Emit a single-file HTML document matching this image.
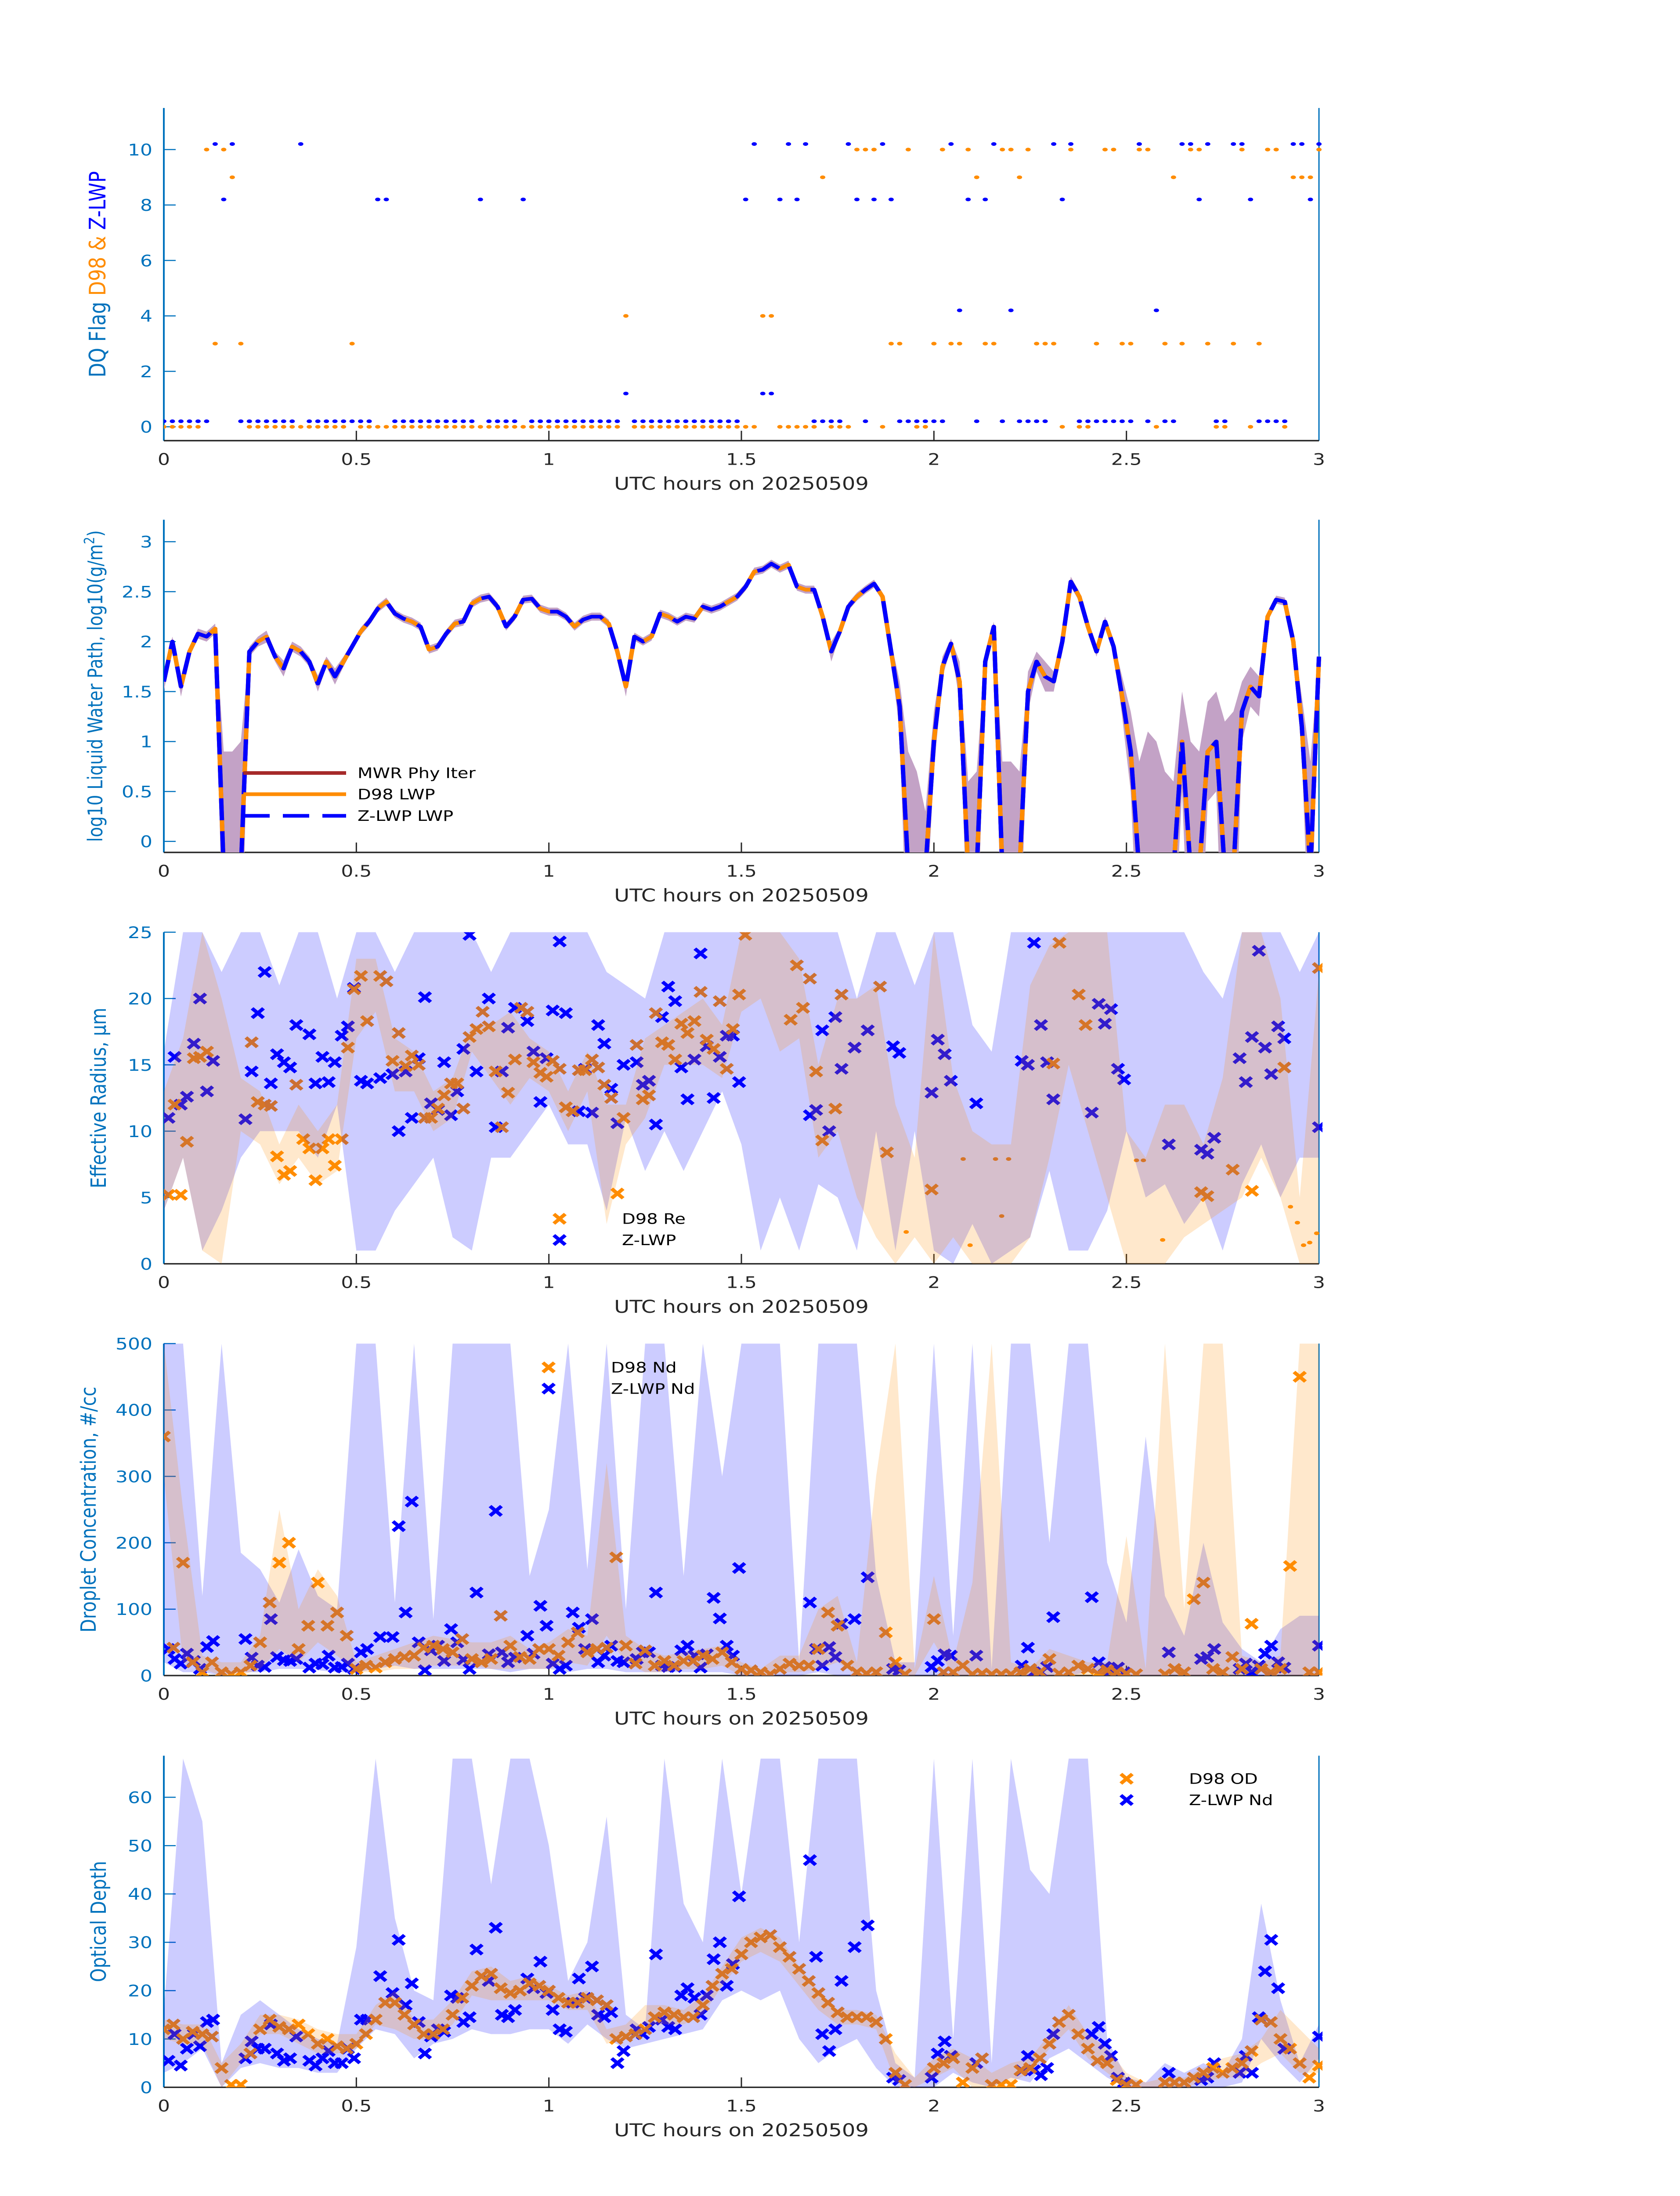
<!DOCTYPE html>
<html>
<head>
<meta charset="utf-8">
<style>
html,body{margin:0;padding:0;background:#fff;width:100%;height:100%;overflow:hidden;}
svg{display:block;position:fixed;left:0;top:0;width:100vw;height:100vh;}
text{font-family:"DejaVu Sans","Liberation Sans",sans-serif;}
</style>
</head>
<body>
<svg id="chart" width="3825" height="6000" viewBox="0 0 3825 6000" preserveAspectRatio="none" xmlns="http://www.w3.org/2000/svg">
<rect x="0" y="0" width="3825" height="6000" fill="#ffffff"/>
</svg>
<script>
// ---------- data ----------
const xTickLabels = ["0","0.5","1","1.5","2","2.5","3"];
const xTickValues = [0,0.5,1,1.5,2,2.5,3];
const flagTicks = [0,2,4,6,8,10];
const lwpTicks = [0,0.5,1,1.5,2,2.5,3];
const reTicks = [0,5,10,15,20,25];
const ndTicks = [0,100,200,300,400,500];
const odTicks = [0,10,20,30,40,50,60];

// DQ flags, one per sample (sample spacing 1/45 h)
const d98Flag = [0,0,0,0,0, 10,3,10,9,3, 0,0,0,0,0,0,0,0,0,0,0,0, 3,
 0,0,0,0,0,0,0,0,0,0,0,0,0,0,0,0,0,0,0,0,0,0,0,0,0,0,0,0,0,0,0, 4,
 0,0,0,0,0,0,0,0,0,0,0,0,0,0,0, 4,4, 0,0,0,0,0, 9, 0,0,0, 10,10,10, 0, 3,3, 10, 0,0,
 3,10,3,3,10,9,3,3,10,10,9,10,3,3,3, 0, 10, 0,0, 3,10,10,3,3,10,10, 0, 3, 9, 3,10,10,3, 0,0, 3,10, 0, 3, 10,10, 0, 9,9,9, 10];
const zFlag = [0.2,0.2,0.2,0.2,0.2,0.2, 10.2,8.2,10.2, 0.2,0.2,0.2,0.2,0.2,0.2,0.2, 10.2,
 0.2,0.2,0.2,0.2,0.2,0.2,0.2,0.2, 8.2,8.2, 0.2,0.2,0.2,0.2,0.2,0.2,0.2,0.2,0.2,0.2, 8.2,
 0.2,0.2,0.2,0.2, 8.2, 0.2,0.2,0.2,0.2,0.2,0.2,0.2,0.2,0.2,0.2,0.2, 1.2,
 0.2,0.2,0.2,0.2,0.2,0.2,0.2,0.2,0.2,0.2,0.2,0.2,0.2, 8.2,10.2,1.2,1.2,8.2,10.2,8.2,10.2,
 0.2,0.2,0.2,0.2, 10.2,8.2,0.2,8.2,10.2,8.2, 0.2,0.2,0.2,0.2,0.2,0.2,
 10.2,4.2,8.2,0.2,8.2,10.2,0.2,4.2, 0.2,0.2,0.2,0.2, 10.2,8.2,10.2,
 0.2,0.2,0.2,0.2,0.2,0.2,0.2, 10.2, 0.2, 4.2, 0.2,0.2, 10.2,10.2,8.2,10.2, 0.2,0.2, 10.2,10.2,8.2,
 0.2,0.2,0.2,0.2, 10.2,10.2,8.2,10.2];

// log10 LWP per sample (1/45 h)
const lwp = [1.6,2.0,1.55,1.9,2.08,2.05,2.13,-0.3,-0.3,-0.3,
 1.9,2.0,2.05,1.85,1.73,1.95,1.9,1.8,1.58,1.8,
 1.65,1.8,1.95,2.1,2.2,2.33,2.4,2.28,2.23,2.2,
 2.15,1.92,1.95,2.08,2.18,2.2,2.38,2.43,2.45,2.35,
 2.15,2.25,2.42,2.43,2.33,2.3,2.3,2.25,2.15,2.22,
 2.25,2.25,2.18,1.9,1.55,2.05,2.0,2.05,2.28,2.25,
 2.2,2.25,2.23,2.35,2.32,2.35,2.4,2.45,2.55,2.7,
 2.72,2.78,2.73,2.77,2.55,2.52,2.52,2.25,1.9,2.1,
 2.35,2.45,2.52,2.58,2.45,1.9,1.35,-0.3,-0.3,-0.3,
 1.0,1.75,1.98,1.6,-0.3,-0.3,1.8,2.15,-0.3,-0.3,
 -0.3,1.5,1.8,1.65,1.6,2.0,2.6,2.45,2.15,1.9,
 2.2,1.95,1.45,0.9,-0.3,-0.3,-0.3,-0.3,-0.3,1.0,
 -0.3,-0.3,0.9,1.0,-0.3,-0.3,1.3,1.55,1.45,2.25,
 2.42,2.4,2.0,1.15,-0.3,1.85];
const lwpErr = [0.1,0.05,0.1,0.05,0.05,0.05,0.05,1.2,1.2,1.3,
 0.05,0.05,0.06,0.05,0.08,0.05,0.05,0.05,0.08,0.05,
 0.08,0.05,0.04,0.04,0.04,0.04,0.04,0.04,0.04,0.04,
 0.04,0.04,0.04,0.04,0.04,0.04,0.04,0.04,0.04,0.04,
 0.04,0.04,0.04,0.04,0.04,0.04,0.04,0.04,0.04,0.04,
 0.04,0.04,0.04,0.04,0.1,0.04,0.04,0.04,0.04,0.04,
 0.04,0.04,0.04,0.04,0.04,0.04,0.04,0.04,0.04,0.04,
 0.04,0.04,0.04,0.04,0.04,0.04,0.04,0.04,0.1,0.04,
 0.04,0.04,0.04,0.04,0.04,0.1,0.25,1.2,1.0,0.6,
 0.3,0.1,0.05,0.2,0.9,1.0,0.1,0.05,1.1,1.1,
 1.0,0.2,0.1,0.15,0.1,0.05,0.05,0.05,0.05,0.05,
 0.05,0.05,0.2,0.4,1.1,1.4,1.3,1.0,0.9,0.5,
 1.3,1.2,0.5,0.5,1.5,1.6,0.3,0.2,0.2,0.04,
 0.04,0.04,0.04,0.3,1.1,0.05];

// Z-LWP retrieval times (hours) shared by Re / Nd / OD markers
const zTimes = [0.012,0.028,0.044,0.06,0.078,0.094,0.112,0.128,0.212,0.228,0.244,0.262,0.278,0.294,0.312,0.328,0.344,0.378,0.394,0.412,0.428,0.444,0.462,0.478,0.494,0.512,0.528,0.562,0.594,0.61,0.628,0.644,0.662,0.678,0.694,0.712,0.728,0.746,0.762,0.778,0.794,0.812,0.844,0.862,0.878,0.894,0.912,0.944,0.96,0.978,0.994,1.01,1.028,1.044,1.062,1.078,1.094,1.112,1.128,1.144,1.162,1.178,1.194,1.228,1.244,1.26,1.278,1.294,1.31,1.328,1.344,1.36,1.378,1.394,1.41,1.428,1.444,1.462,1.478,1.494,1.678,1.694,1.71,1.728,1.744,1.76,1.794,1.828,1.894,1.91,1.994,2.01,2.028,2.044,2.11,2.228,2.244,2.26,2.278,2.294,2.31,2.41,2.428,2.444,2.46,2.478,2.494,2.61,2.694,2.71,2.728,2.794,2.81,2.826,2.844,2.86,2.876,2.894,2.91,3.0];
const zRe = [11,15.6,12,12.6,16.6,20,13,15.3,10.9,14.5,18.9,22,13.6,15.8,15.2,14.8,18,17.3,13.6,15.6,13.7,15.2,17.2,17.9,20.8,13.8,13.6,14,14.3,10,14.5,11,15.5,20.1,12.1,11.6,15.2,11.2,13,16.2,24.8,14.5,20,10.3,14.5,17.8,19.3,18.3,16,12.2,15.5,19.1,24.3,18.9,11.5,11.5,14.7,11.4,18,16.6,13.2,10.6,15,15.2,13.5,13.8,10.5,18.6,20.9,19.8,14.8,12.4,15.4,23.4,16.4,12.5,15.6,17.2,17.2,13.7,11.2,11.6,17.6,10,18.6,14.7,16.3,17.6,16.4,15.9,12.9,16.9,15.8,13.8,12.1,15.3,15,24.2,18,15.2,12.4,11.4,19.6,18.1,19.2,14.7,13.9,9,8.6,8.3,9.5,15.5,13.7,17.1,23.6,16.3,14.3,17.9,17,10.3];
const zNd = [40,25,18,33,22,10,43,52,55,27,15,13,85,28,23,22,25,12,18,17,30,12,13,18,10,35,40,58,58,225,95,262,50,8,38,45,22,70,50,24,10,125,32,248,35,20,27,60,33,105,75,18,10,15,95,72,40,85,20,30,45,22,20,25,35,35,125,15,13,13,38,45,30,12,32,117,86,45,30,162,110,40,15,43,28,78,85,148,10,8,13,22,32,30,30,15,42,5,5,13,88,118,20,13,8,12,5,35,25,28,40,10,18,5,15,33,45,20,12,45];
const zOd = [5.5,11,4.5,8,11,8.5,13.5,14,6,9.5,8,8,13,7,5.5,6,10.5,5.5,4.5,6,7.5,5,5,8,6,14,14,23,19.5,30.5,17,21.5,13.5,7,10.5,12,11.5,19,18.5,13.5,14.5,28.5,22,33,15,14.5,16,22.5,20.5,26,19.5,16,12,11.5,17.5,22.5,18.5,25,15,14.5,15.5,5,7.5,12,11,12.5,27.5,14,12.5,12,19,20.5,18.5,15,19,26.5,30,21,25.5,39.5,47,27,11,7.5,12,22,29,33.5,2,1.5,2,7,9.5,6.5,5,3.5,6.5,3.5,2.5,4,11,11,12.5,9,6.5,2,1,3,1.5,2,5,3,6.5,3,14.5,24,30.5,20.5,8,10.5];

// D98 effective radius markers
const dReTimes = [0.012,0.028,0.044,0.06,0.078,0.094,0.112,0.228,0.244,0.262,0.278,0.294,0.312,0.328,0.344,0.362,0.378,0.394,0.412,0.428,0.444,0.462,0.478,0.494,0.512,0.528,0.562,0.578,0.594,0.61,0.628,0.644,0.662,0.678,0.694,0.712,0.728,0.746,0.762,0.778,0.794,0.812,0.828,0.844,0.862,0.878,0.894,0.912,0.928,0.944,0.96,0.978,0.994,1.01,1.028,1.044,1.062,1.078,1.094,1.112,1.128,1.144,1.162,1.178,1.194,1.228,1.244,1.26,1.278,1.294,1.31,1.328,1.344,1.36,1.378,1.394,1.41,1.428,1.444,1.462,1.478,1.494,1.51,1.628,1.644,1.66,1.678,1.694,1.71,1.744,1.76,1.86,1.878,1.994,2.31,2.326,2.376,2.394,2.694,2.71,2.776,2.826,2.91,3.0];
const dRe = [5.2,12,5.2,9.2,15.5,15.6,16,16.7,12.2,12,11.9,8.1,6.7,7,13.5,9.4,8.7,6.3,8.7,9.4,7.4,9.4,16.3,20.7,21.7,18.3,21.7,21.3,15.3,17.4,14.9,15.7,15,11,11,11.7,12.7,13.6,13.6,11.7,17.1,17.7,19,17.9,14.5,10.3,12.9,15.4,19.3,19,15.2,14.4,14.1,15.3,14.7,11.8,11.5,14.6,14.6,15.4,14.8,13.5,12.5,5.3,11,16.5,12.4,12.7,18.9,16.7,16.5,15.4,18.1,17.4,18.3,20.5,16.9,16.2,19.8,14.7,17.7,20.3,24.8,18.4,22.5,19.3,21.5,14.5,9.3,11.7,20.3,20.9,8.4,5.6,15.1,24.2,20.3,18,5.4,5.1,7.1,5.5,14.8,22.3];
const dReDotTimes = [1.928,2.076,2.094,2.16,2.176,2.194,2.526,2.544,2.594,2.926,2.944,2.96,2.976,2.994];
const dReDots = [2.4,7.9,1.4,7.9,3.6,7.9,7.8,7.8,1.8,4.3,3.1,1.4,1.6,2.3];

// D98 Nd and OD on 0.025 h grid (null = no retrieval)
const dNd = [360,42,170,20,5,20,5,2,5,15,
 50,110,170,200,40,75,140,75,95,60,
 10,15,12,20,25,28,30,42,45,40,
 35,55,25,20,25,90,45,28,25,40,
 40,30,50,65,35,40,42,178,45,18,
 38,15,22,15,22,22,30,25,35,20,
 10,8,5,2,10,18,15,15,40,95,
 75,15,5,3,5,65,20,2,null,null,
 85,5,5,15,2,3,2,2,2,5,
 10,5,25,3,5,15,10,3,8,5,
 3,2,null,null,2,10,5,115,140,10,
 5,28,10,78,10,5,10,165,450,5,
 5];
const dOd = [12,13,10,11.5,11,10.5,4,0.5,0.5,7,
 12,14,12.5,12,13,11,9,10,8.5,8,
 9,11,14,17.5,17.5,15,13,11,11,12,
 15,18.5,21,23,23.5,20.5,19.5,20,21.5,21,
 20,18.5,17.5,17.5,18.5,18,17,10,10.5,11,
 12,14.5,15.5,15,14.5,14.5,17,21,23.5,24.5,
 27.5,30,31,31.5,29,27,24.5,22,19.5,17.5,
 15.5,14.5,14.5,14.5,13.5,10,3,0.5,null,null,
 4,5,6,1,4,6,0.5,0.5,0.5,3.5,
 4,6,9,13.5,15,11,8,5.5,5,1.5,
 0.5,0.5,null,null,1,1,1,2,3,4,
 3,4,5,7.5,14,13.5,10,8,5,2,
 4.5];

// uncertainty bands on 0.05 h grid
const zReLo = [4,8,1,4,8,10,10,10,8,12,1,1,4,6,8,2,1,8,8,10,12,9,9,4,11,7,10,7,10,13,9,1,5,1,6,5,1,10,1,10,1,0,3,0,1,2,7,1,1,4,10,5,6,3,5,1,6,9,5,8,8];
const zReHi = [16,25,25,22,25,25,21,25,25,20,25,25,22,25,25,25,25,22,25,25,25,25,25,22,21,20,25,25,25,25,25,25,25,25,25,25,20,25,25,21,25,25,18,16,25,25,25,25,25,25,25,25,25,25,22,20,25,25,25,22,25];
const dReLo = [4,8,1,0,10,9,6,8,6,7,17,19,13,13,10,11,16,14,12,14,13,10,13,3,9,11,15,15,15,14,19,20,16,17,8,10,5,2,0,2,0,2,0,0,0,2,8,15,10,5,0,0,0,2,3,4,5,8,5,0,0];
const dReHi = [13,17,25,20,14,13,9,12,10,12,23,23,17,16,13,14,18,18,19,17,16,13,16,12,12,17,18,19,20,18,25,25,25,23,15,20,20,21,12,8,25,14,10,9,9,21,24,25,25,25,10,8,12,12,9,14,25,25,20,5,22];
const zNdLo = [20,5,5,0,5,5,10,10,8,5,5,10,15,10,10,10,10,10,5,10,10,5,10,10,5,5,5,5,5,5,0,0,0,0,5,0,0,0,0,0,0,0,0,0,0,0,0,0,5,0,0,0,0,0,0,0,0,0,0,0,0];
const zNdHi = [500,500,120,500,185,160,110,190,120,100,500,500,110,500,85,500,500,500,500,150,250,500,160,500,100,500,500,150,500,300,500,500,500,20,500,500,500,150,20,20,500,60,500,10,500,500,200,500,500,170,80,360,120,60,200,80,40,20,70,90,90];
const dNdLo = [300,20,10,0,0,10,40,20,50,30,5,5,10,10,15,15,15,10,10,10,10,20,15,60,20,5,5,10,10,15,0,0,5,5,10,20,0,0,0,0,50,0,0,0,0,0,0,0,0,0,0,0,0,0,0,0,0,10,0,0,0];
const dNdHi = [500,250,30,20,20,60,250,100,160,120,20,30,40,50,60,55,50,50,60,40,50,70,60,320,60,40,30,35,40,45,20,10,30,30,100,120,20,300,500,10,150,20,140,500,20,10,40,30,20,20,210,10,500,100,500,500,30,20,30,500,500];
const zOdLo = [3,5,8,0,4,5,4,4,3,3,8,12,11,6,9,10,12,11,11,12,12,9,13,10,8,9,10,11,12,18,20,18,20,10,5,8,10,4,0,0,0,3,1,0,2,1,6,8,5,2,0,0,0,0,0,0,1,10,5,1,6];
const zOdHi = [16,68,55,5,15,18,15,12,10,9,29,68,35,20,18,68,68,42,68,68,50,22,30,56,15,12,68,38,30,68,40,68,68,30,68,68,68,20,5,2,68,10,68,5,68,45,40,68,68,10,2,1,5,3,5,3,10,38,18,5,13];
const dOdLo = [10,9,9,0,5,11,11,9,7,7,8,13,12,10,10,13,19,18,18,18,18,16,16,9,10,13,13,13,15,21,26,28,26,21,16,13,13,12,1,0,2,4,0,0,1,3,8,12,6,3,0,0,0,0,1,2,2,5,7,3,3];
const dOdHi = [14,13,13,5,9,15,15,14,12,11,11,17,20,14,14,18,24,25,22,23,21,19,20,12,13,17,17,16,19,25,31,33,31,25,20,16,16,15,7,2,6,8,6,3,5,6,11,17,11,8,3,1,2,2,4,6,7,10,16,12,8];

// ---------- layout ----------
const X0 = 373, X1 = 3003, TMAX = 3;
const P = [
  {top:295,  bot:1204, min:-0.5, max:11.5},
  {top:1420, bot:2329, min:-0.11, max:3.22},
  {top:2547, bot:3453, min:0, max:25},
  {top:3671, bot:4578, min:0, max:500},
  {top:4797, bot:5703, min:0, max:68.6}
];
const C_ORANGE = "#ff8c00", C_BLUE = "#0000ff", C_AX = "#0072bd", C_DARK = "#262626";
const NS = "http://www.w3.org/2000/svg";
const svg = document.getElementById("chart");

function xs(t){ return X0 + (t / TMAX) * (X1 - X0); }
function ys(p, v){ return p.bot - (v - p.min) / (p.max - p.min) * (p.bot - p.top); }
function mk(tag, attrs, parent){
  const e = document.createElementNS(NS, tag);
  for (const k in attrs) e.setAttribute(k, attrs[k]);
  (parent || svg).appendChild(e);
  return e;
}
function sampleT(i){ return i / 45; }
function grid05(i){ return i * 0.05; }
function grid025(i){ return i * 0.025; }

const defs = mk("defs", {});
P.forEach((p, k) => {
  const cp = mk("clipPath", {id:"clip" + k}, defs);
  mk("rect", {x:X0, y:p.top, width:X1 - X0 + 8, height:p.bot - p.top}, cp);
});

function drawAxes(k, ticks, tickFmt, ylabelParts, ylabelX, ylabelSize){
  const p = P[k];
  const g = mk("g", {});
  
  
  ticks.forEach(v => {
    const y = ys(p, v);
    const tk = mk("line", {x1:X0, x2:X0 + 27, y1:y, y2:y, stroke:C_AX, "stroke-width":3}, g);
    
    
    const tl = mk("text", {x:347, y:y + 16, "text-anchor":"end", "font-size":44, fill:C_AX}, g);
    tl.textContent = tickFmt(v);
    
    
  });
  xTickValues.forEach((v, i) => {
    const x = xs(v);
    const tk = mk("line", {x1:x, x2:x, y1:p.bot, y2:p.bot - 27, stroke:C_DARK, "stroke-width":3}, g);
    
    
    const tl = mk("text", {x:x, y:p.bot + 66, "text-anchor":"middle", "font-size":44, fill:C_DARK}, g);
    tl.textContent = xTickLabels[i];
    
    
  });
  const yax = mk("line", {x1:X0, x2:X0, y1:p.top, y2:p.bot, stroke:C_AX, "stroke-width":4}, g);
  
  
  const rax = mk("line", {x1:X1, x2:X1, y1:p.top, y2:p.bot, stroke:C_AX, "stroke-width":3}, g);
  
  
  const xax = mk("line", {x1:X0, x2:X1, y1:p.bot, y2:p.bot, stroke:C_DARK, "stroke-width":4}, g);
  
  
  const xl = mk("text", {x:(X0 + X1) / 2, y:p.bot + 134, "text-anchor":"middle", "font-size":48, fill:C_DARK}, g);
  xl.textContent = "UTC hours on 20250509";
  
  
  const cy = (p.top + p.bot) / 2;
  const yl = mk("text", {x:ylabelX, y:cy, "text-anchor":"middle", "font-size":ylabelSize, fill:C_AX,
    transform:"rotate(-90 " + ylabelX + " " + cy + ")"}, g);
  
  
  ylabelParts.forEach(part => {
    const ts = mk("tspan", {fill:part[1]}, yl);
    if (part[2]) { ts.setAttribute("baseline-shift", "super"); ts.setAttribute("font-size", 32); }
    ts.textContent = part[0];
  });
}

function plotGroup(k, name){
  const g = mk("g", {"clip-path":"url(#clip" + k + ")"});
  
  
  return g;
}
function xMarker(g, x, y, color, name){
  const s = 13;
  const m = mk("path", {d:"M" + (x - s) + " " + (y - s) + "L" + (x + s) + " " + (y + s) + "M" + (x - s) + " " + (y + s) + "L" + (x + s) + " " + (y - s),
    stroke:color, "stroke-width":9, fill:"none"}, g);
  
  
  return m;
}
function dot(g, x, y, color, name){
  const d = mk("ellipse", {cx:x, cy:y, rx:6, ry:5, fill:color}, g);
  
  
  return d;
}
function bandPath(p, tFn, lo, hi){
  const n = Math.min(lo.length, hi.length);
  let d = "";
  for (let i = 0; i < n; i++) d += (i ? "L" : "M") + xs(tFn(i)).toFixed(1) + " " + ys(p, hi[i]).toFixed(1);
  for (let i = n - 1; i >= 0; i--) d += "L" + xs(tFn(i)).toFixed(1) + " " + ys(p, lo[i]).toFixed(1);
  return d + "Z";
}

// ---------- Panel 1 ----------
drawAxes(0, flagTicks, v => String(v), [["DQ Flag  ", C_AX], ["D98 &  ", C_ORANGE], ["Z-LWP", C_BLUE]], 240, 52);
{
  const g = plotGroup(0, "flag-plot-area");
  d98Flag.forEach((v, i) => { dot(g, xs(sampleT(i)), ys(P[0], v), C_ORANGE, "d98-flag-point"); });
  zFlag.forEach((v, i) => { dot(g, xs(sampleT(i)), ys(P[0], v), C_BLUE, "zlwp-flag-point"); });
}

// ---------- Panel 2 ----------
drawAxes(1, lwpTicks, v => String(v), [["log10 Liquid Water Path, log10(g/m", C_AX], ["2", C_AX, true], [")", C_AX]], 233, 46);
{
  const p = P[1];
  const g = plotGroup(1, "lwp-plot-area");
  const lo = lwp.map((v, i) => v - (lwpErr[i] !== undefined ? lwpErr[i] : 0.04));
  const hi = lwp.map((v, i) => v + (lwpErr[i] !== undefined ? lwpErr[i] : 0.04));
  const b = mk("path", {d:bandPath(p, sampleT, lo, hi), fill:"#c3a2c6", stroke:"none"}, g);
  
  
  let d = "";
  lwp.forEach((v, i) => { d += (i ? "L" : "M") + xs(sampleT(i)).toFixed(1) + " " + ys(p, v).toFixed(1); });
  const l1 = mk("path", {d:d, stroke:"#a52a2a", "stroke-width":10, fill:"none", "stroke-linejoin":"round"}, g);
  
  
  const l2 = mk("path", {d:d, stroke:C_ORANGE, "stroke-width":10, fill:"none", "stroke-linejoin":"round"}, g);
  
  
  const l3 = mk("path", {d:d, stroke:C_BLUE, "stroke-width":10, fill:"none", "stroke-dasharray":"60 30", "stroke-linejoin":"round"}, g);
  
  
  const lg = mk("g", {});
  
  
  const entries = [["MWR Phy Iter", "#a52a2a", null, 2112], ["D98 LWP", C_ORANGE, null, 2170], ["Z-LWP LWP", C_BLUE, "60 30", 2229]];
  entries.forEach(e => {
    const ln = mk("line", {x1:554, x2:788, y1:e[3], y2:e[3], stroke:e[1], "stroke-width":10}, lg);
    if (e[2]) ln.setAttribute("stroke-dasharray", e[2]);
    
    
    const tx = mk("text", {x:814, y:e[3] + 14, "font-size":40, fill:"#000"}, lg);
    tx.textContent = e[0];
    
    
  });
}

function markerPanel(k, zVals, dTimesFn, dVals, dTimesArr, zLo, zHi, dLo, dHi, legendX, legendY, labels, extraDots){
  const p = P[k];
  const g = plotGroup(k, "plot-area-panel-" + (k + 1));
  zTimes.forEach((t, i) => { if (zVals[i] != null) xMarker(g, xs(t), ys(p, zVals[i]), C_BLUE, "zlwp-marker"); });
  dVals.forEach((v, i) => {
    if (v == null) return;
    const t = dTimesArr ? dTimesArr[i] : dTimesFn(i);
    xMarker(g, xs(t), ys(p, v), C_ORANGE, "d98-marker");
  });
  if (extraDots) extraDots[1].forEach((v, i) => { dot(g, xs(extraDots[0][i]), ys(p, v), C_ORANGE, "d98-small-point"); });
  const bz = mk("path", {d:bandPath(p, grid05, zLo, zHi), fill:"rgba(0,0,255,0.2)", stroke:"none"}, g);
  
  
  const bd = mk("path", {d:bandPath(p, grid05, dLo, dHi), fill:"rgba(255,140,0,0.2)", stroke:"none"}, g);
  
  
  const lg = mk("g", {});
  
  
  [[C_ORANGE, labels[0], legendY], [C_BLUE, labels[1], legendY + 58]].forEach(e => {
    xMarker(lg, legendX, e[2], e[0], "legend-marker");
    const tx = mk("text", {x:legendX + 142, y:e[2] + 14, "font-size":40, fill:"#000"}, lg);
    tx.textContent = e[1];
    
    
  });
}

drawAxes(2, reTicks, v => String(v), [["Effective Radius,", C_AX], ["\u00a0\u03bcm", C_AX]], 241, 48);
markerPanel(2, zRe, null, dRe, dReTimes, zReLo, zReHi, dReLo, dReHi, 1274, 3330, ["D98 Re", "Z-LWP"], [dReDotTimes, dReDots]);

drawAxes(3, ndTicks, v => String(v), [["Droplet Concentration, #/cc", C_AX]], 218, 48);
markerPanel(3, zNd, grid025, dNd, null, zNdLo, zNdHi, dNdLo, dNdHi, 1249, 3736, ["D98 Nd", "Z-LWP Nd"], null);

drawAxes(4, odTicks, v => String(v), [["Optical Depth", C_AX]], 241, 48);
markerPanel(4, zOd, grid025, dOd, null, zOdLo, zOdHi, dOdLo, dOdHi, 2565, 4860, ["D98 OD", "Z-LWP Nd"], null);
</script>
</body>
</html>
